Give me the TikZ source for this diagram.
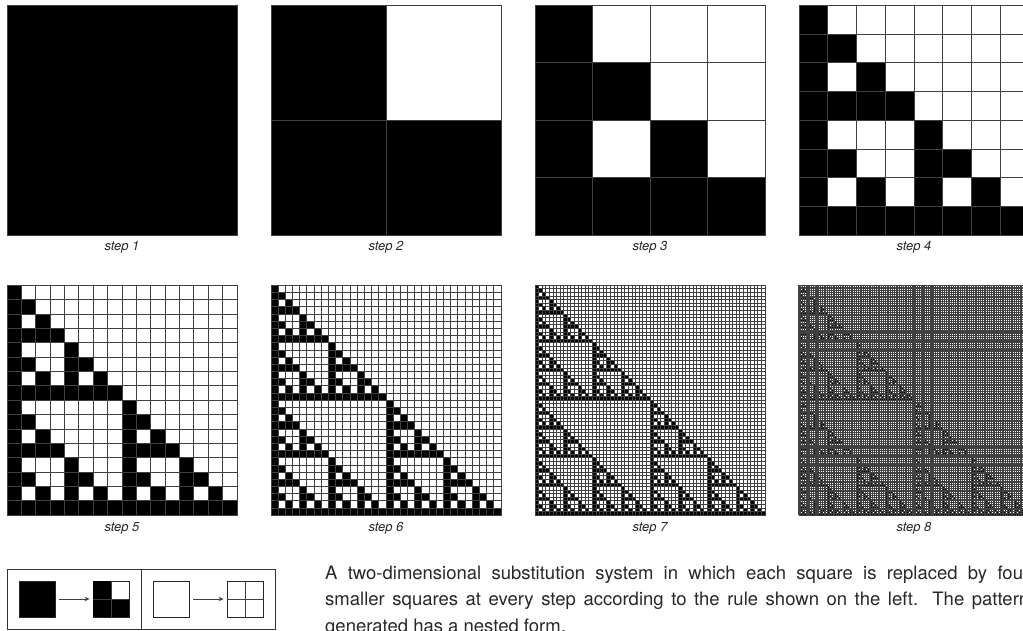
\documentclass[tikz,border=0pt]{standalone}
\usepackage{fontspec}
\setmainfont{TeX Gyre Heros}
\newfontfamily\bodyfont{TeX Gyre Heros}
\usetikzlibrary{arrows.meta}
\definecolor{cgrid}{RGB}{64,64,64}
\definecolor{ctext}{RGB}{40,40,40}
\tikzset{
  cellfill/.style={fill=black},
  gridline/.style={draw=cgrid,line width=0.9pt},
  steplabel/.style={anchor=base,text=ctext,font=\fontsize{13}{15}\selectfont\itshape},
  rulesq/.style={draw=black!85,line width=0.8pt,minimum size=36pt,inner sep=0pt},
  rulearrow/.style={draw=black!75,line width=0.8pt,-{Stealth[length=5pt,width=4.5pt]},
    shorten <=4pt,shorten >=3pt},
  bodytext/.style={anchor=north west,inner sep=0pt,text width=704pt,align=justify,
    text=ctext,font=\bodyfont\fontsize{18.5}{26.5}\selectfont}
}
% black square -> three black quarters, repeated #4 times
\newcommand\sierpfill[4]{%
  \ifnum#4=0\relax
    \fill[cellfill] (#1,#2) rectangle +(#3,#3);
  \else
    \edef\sierpnext{%
      \noexpand\sierpfill{#1}{#2}{\the\numexpr#3/2\relax}{\the\numexpr#4-1\relax}%
      \noexpand\sierpfill{\the\numexpr#1+#3/2\relax}{#2}{\the\numexpr#3/2\relax}{\the\numexpr#4-1\relax}%
      \noexpand\sierpfill{#1}{\the\numexpr#2+#3/2\relax}{\the\numexpr#3/2\relax}{\the\numexpr#4-1\relax}}%
    \sierpnext
  \fi}

\begin{document}
\begin{tikzpicture}[x=1pt,y=1pt]
    \useasboundingbox (0,0) rectangle (1023,630);
    \clip (0,0) rectangle (1023,630);
    \def\w{230}\def\dx{264}\def\dy{280} % panel size and spacing
    \foreach \n in {1,...,8}{
      \pgfmathtruncatemacro\col{mod(\n-1,4)}
      \pgfmathtruncatemacro\row{(\n-1)/4}
      \pgfmathtruncatemacro\lev{\n-1}
      \pgfmathtruncatemacro\cell{128/2^(\n-1)}
      \pgfmathsetmacro\lw{\n<8 ? 0.9 : 1.05}
      \begin{scope}[shift={(7+\dx*\col,394.7-\dy*\row)},x=\w pt/128,y=\w pt/128]
        \sierpfill{0}{0}{128}{\lev}
        \draw[gridline,line width=\lw pt] (0,0) grid[step={(\cell,\cell)}] (128,128);
        \draw[gridline] (0,0) rectangle (128,128);
        \node[steplabel,yshift=-15.7pt] (lab\n) at (64,0) {step \n};
      \end{scope}
    }
    % the rule
    \draw[draw=black!80,line width=0.9pt] (7,0.6) rectangle (275,61) (141,0.6) -- (141,61);
    \node[rulesq,fill=black] (blk) at (37,31) {};
    \node[rulesq] (blkout) at (111,31) {};
    \node[rulesq] (wht) at (171,31) {};
    \node[rulesq] (whtout) at (245,31) {};
    \fill[cellfill] (blkout.south west) rectangle (blkout.east);
    \fill[cellfill] (blkout.west) rectangle (blkout.north);
    \draw[gridline] (blkout.north) -- (blkout.south) (blkout.west) -- (blkout.east);
    \draw[gridline] (whtout.north) -- (whtout.south) (whtout.west) -- (whtout.east);
    \draw[rulearrow] (blk) -- (blkout);
    \draw[rulearrow] (wht) -- (whtout);
    \node[bodytext] (caption) at (325,64.3) {A two-dimensional substitution system in which
      each square is replaced by four\linebreak smaller squares at every step according
      to the rule shown on the left. The pattern\linebreak generated has a nested form.};
\end{tikzpicture}
\end{document}
